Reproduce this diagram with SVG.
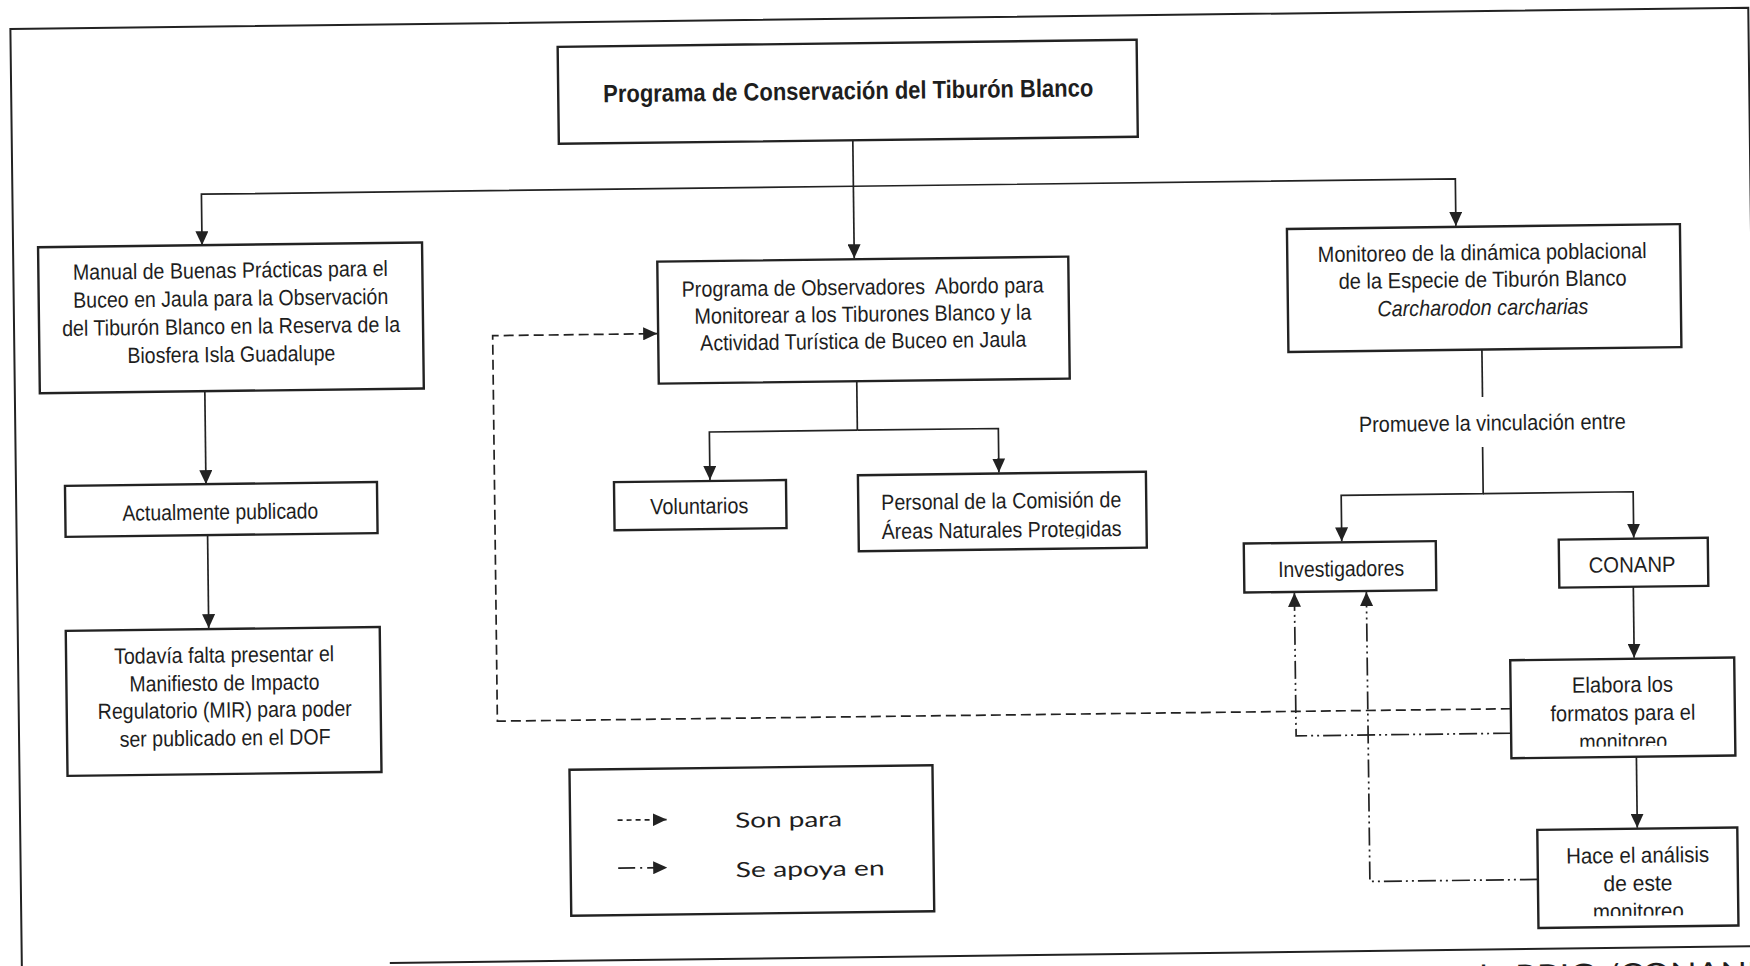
<svg xmlns="http://www.w3.org/2000/svg" width="1750" height="966" viewBox="0 0 1750 966">
<style>
.bx{fill:#fff;stroke:#222;stroke-width:2.4}
.t{font-family:"Liberation Sans Narrow","Liberation Sans",Arial,sans-serif;font-size:22px;fill:#1e1e1e;text-anchor:middle}
.tt{font-family:"Liberation Sans Narrow","Liberation Sans",Arial,sans-serif;font-size:25px;font-weight:bold;fill:#1e1e1e;text-anchor:middle}
.lg{font-family:Lato,"Liberation Sans",sans-serif;font-size:21px;fill:#1e1e1e}
.c{fill:none;stroke:#222;stroke-width:1.7}
.a{marker-end:url(#ah)}
.dash{stroke-dasharray:10 5}
.dd{stroke-dasharray:18 4 2 4 2 4}
.frame{fill:none;stroke:#222;stroke-width:2}
</style>
<defs>
<marker id="ah" markerUnits="userSpaceOnUse" markerWidth="14" markerHeight="13" refX="14" refY="6.5" orient="auto"><path d="M0,0 L14,6.5 L0,13 Z" fill="#222"/></marker>
<clipPath id="clipPers"><rect x="858" y="475" width="288" height="66"/></clipPath>
<clipPath id="clipElab"><rect x="1508" y="668" width="224" height="87.5"/></clipPath>
<clipPath id="clipHace"><rect x="1533" y="838" width="200" height="87"/></clipPath>
</defs>
<rect width="1750" height="966" fill="#fff"/>
<g transform="rotate(-0.7 875 483)">
<g id="frame">
<path class="frame" d="M16,1000 V18.5 H1754 V957"/>
<path class="frame" d="M384,957 H1770"/>
<text x="1462" y="994" font-family="Lato,'Liberation Sans',sans-serif" font-size="30" fill="#1e1e1e" textLength="300" lengthAdjust="spacingAndGlyphs">de RBIG /CONANP</text>
</g>
<g id="connectors">
<path class="c a" d="M857,140 V258"/>
<path class="c a" d="M857,186 H205 V237"/>
<path class="c a" d="M857,186 H1459 V233"/>
<path class="c a" d="M206,383 V476"/>
<path class="c a" d="M207,527 V620"/>
<path class="c" d="M858,381 V430"/>
<path class="c a" d="M858,430 H710 V478"/>
<path class="c a" d="M858,430 H999 V474"/>
<path class="c" d="M1483.5,357 V404.5"/>
<path class="c a" d="M1483,454.5 V501 H1341 V547"/>
<path class="c a" d="M1483,501 H1633 V547"/>
<path class="c a" d="M1632,596 V667"/>
<path class="c a" d="M1633,766 V837"/>
<path class="c a dash" d="M1508,716.5 H494.5 V331 H659"/>
<path class="c a dd" d="M1508,741 H1293 V598"/>
<path class="c a dd" d="M1533,887.5 H1365 V598"/>
</g>
<g id="title">
<rect class="bx" x="563" y="43" width="579" height="97"/>
<text class="tt" x="853" y="99" textLength="490" lengthAdjust="spacingAndGlyphs">Programa de Conservación del Tiburón Blanco</text>
</g>
<g id="manual">
<rect class="bx" x="41" y="237" width="384" height="146"/>
<text class="t" x="233" y="270" textLength="315" lengthAdjust="spacingAndGlyphs">Manual de Buenas Prácticas para el</text>
<text class="t" x="233" y="298" textLength="315" lengthAdjust="spacingAndGlyphs">Buceo en Jaula para la Observación</text>
<text class="t" x="233" y="326" textLength="338" lengthAdjust="spacingAndGlyphs">del Tiburón Blanco en la Reserva de la</text>
<text class="t" x="233" y="354" textLength="208" lengthAdjust="spacingAndGlyphs">Biosfera Isla Guadalupe</text>
</g>
<g id="actualmente">
<rect class="bx" x="65" y="476" width="312" height="51"/>
<text class="t" x="220" y="511.5" textLength="196" lengthAdjust="spacingAndGlyphs">Actualmente publicado</text>
</g>
<g id="todavia">
<rect class="bx" x="64" y="621" width="314" height="145"/>
<text class="t" x="222" y="654.5" textLength="220" lengthAdjust="spacingAndGlyphs">Todavía falta presentar el</text>
<text class="t" x="222" y="682.5" textLength="190" lengthAdjust="spacingAndGlyphs">Manifiesto de Impacto</text>
<text class="t" x="222" y="709.5" textLength="254" lengthAdjust="spacingAndGlyphs">Regulatorio (MIR) para poder</text>
<text class="t" x="222" y="737.5" textLength="211" lengthAdjust="spacingAndGlyphs">ser publicado en el DOF</text>
</g>
<g id="observadores">
<rect class="bx" x="660" y="259" width="411" height="122"/>
<text class="t" x="865" y="294.5" textLength="362" lengthAdjust="spacingAndGlyphs" xml:space="preserve">Programa de Observadores  Abordo para</text>
<text class="t" x="865" y="321.5" textLength="337" lengthAdjust="spacingAndGlyphs">Monitorear a los Tiburones Blanco y la</text>
<text class="t" x="865" y="348.5" textLength="326" lengthAdjust="spacingAndGlyphs">Actividad Turística de Buceo en Jaula</text>
</g>
<g id="voluntarios">
<rect class="bx" x="614" y="479" width="172" height="48"/>
<text class="t" x="699" y="511.5" textLength="98" lengthAdjust="spacingAndGlyphs">Voluntarios</text>
</g>
<g id="personal">
<rect class="bx" x="858" y="475" width="288" height="76"/>
<g clip-path="url(#clipPers)">
<text class="t" x="1001" y="510" textLength="240" lengthAdjust="spacingAndGlyphs">Personal de la Comisión de</text>
<text class="t" x="1001" y="539" textLength="240" lengthAdjust="spacingAndGlyphs">Áreas Naturales Protegidas</text>
</g>
</g>
<g id="monitoreo">
<rect class="bx" x="1290" y="234" width="393" height="123"/>
<text class="t" x="1485" y="267.5" textLength="329" lengthAdjust="spacingAndGlyphs">Monitoreo de la dinámica poblacional</text>
<text class="t" x="1485" y="294.5" textLength="288" lengthAdjust="spacingAndGlyphs">de la Especie de Tiburón Blanco</text>
<text class="t" x="1485" y="322.5" textLength="211" lengthAdjust="spacingAndGlyphs" font-style="italic">Carcharodon carcharias</text>
</g>
<g id="promueve">
<text class="t" x="1493" y="438" textLength="267" lengthAdjust="spacingAndGlyphs">Promueve la vinculación entre</text>
</g>
<g id="investigadores">
<rect class="bx" x="1243" y="548" width="192" height="49"/>
<text class="t" x="1340" y="582" textLength="126" lengthAdjust="spacingAndGlyphs">Investigadores</text>
</g>
<g id="conanp">
<rect class="bx" x="1558" y="548" width="149" height="48"/>
<text class="t" x="1631" y="581.5" textLength="87" lengthAdjust="spacingAndGlyphs">CONANP</text>
</g>
<g id="elabora">
<rect class="bx" x="1508" y="668" width="224" height="98"/>
<g clip-path="url(#clipElab)">
<text class="t" x="1620" y="701.3" textLength="101" lengthAdjust="spacingAndGlyphs">Elabora los</text>
<text class="t" x="1620" y="729.6" textLength="145" lengthAdjust="spacingAndGlyphs">formatos para el</text>
<text class="t" x="1620" y="758" textLength="88" lengthAdjust="spacingAndGlyphs">monitoreo</text>
</g>
</g>
<g id="hace">
<rect class="bx" x="1533" y="838" width="200" height="98"/>
<g clip-path="url(#clipHace)">
<text class="t" x="1633" y="872" textLength="143" lengthAdjust="spacingAndGlyphs">Hace el análisis</text>
<text class="t" x="1633" y="900" textLength="69" lengthAdjust="spacingAndGlyphs">de este</text>
<text class="t" x="1633" y="928" textLength="91" lengthAdjust="spacingAndGlyphs">monitoreo</text>
</g>
</g>
<g id="legend">
<rect class="bx" x="566" y="766" width="363" height="146"/>
<path class="c a" d="M613.5,817 H662.5" style="stroke-dasharray:5 4"/>
<path class="c a" d="M613.5,865 H662.5" style="stroke-dasharray:17 5 2 5"/>
<text class="lg" x="731" y="826" textLength="107" lengthAdjust="spacingAndGlyphs">Son para</text>
<text class="lg" x="731" y="875.5" textLength="149" lengthAdjust="spacingAndGlyphs">Se apoya en</text>
</g>
</g>
</svg>
